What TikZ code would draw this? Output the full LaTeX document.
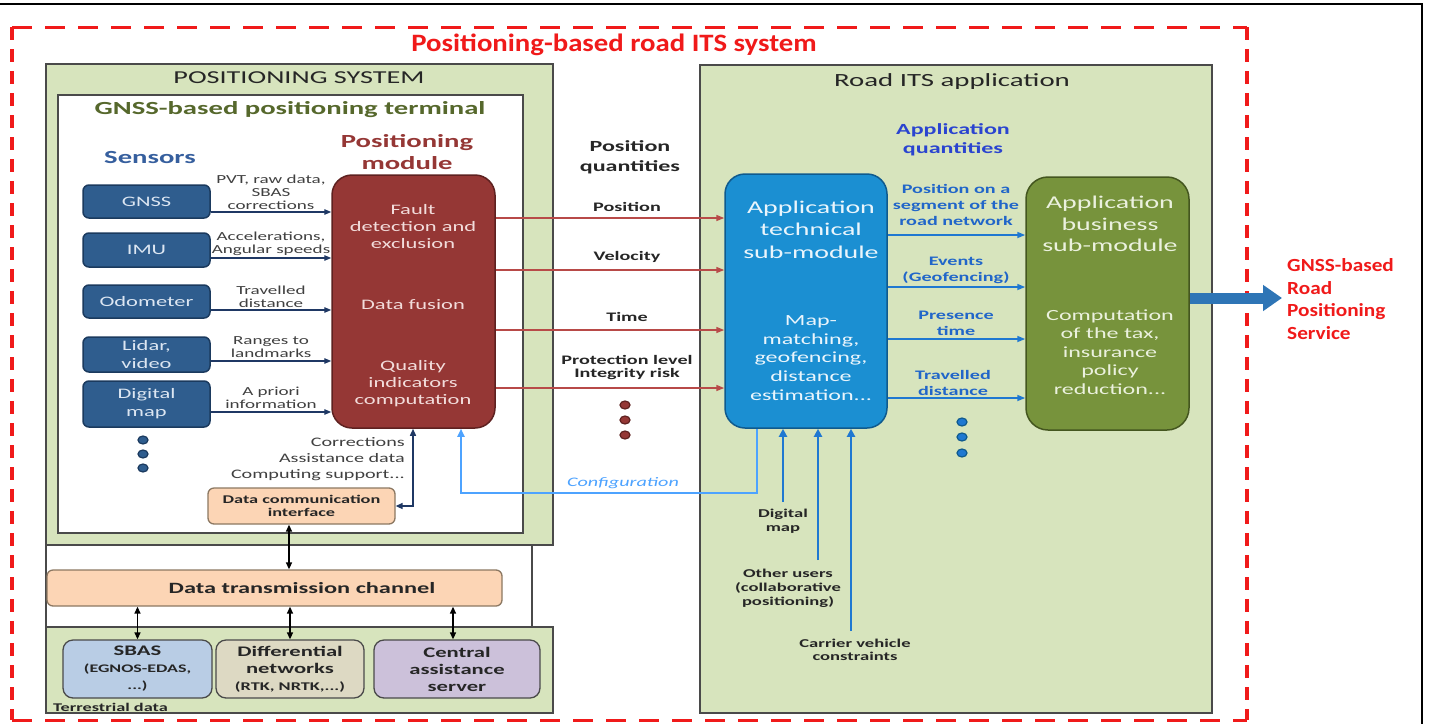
\documentclass[tikz,border=0pt]{standalone}
\usepackage{fontspec}
\setmainfont{Carlito}[FakeStretch=1.55]
\newfontfamily\redfont{Carlito}[FakeStretch=1.15]
\usetikzlibrary{arrows.meta}

\newcommand{\fsz}[2]{\fontsize{#1}{#2}\selectfont}

\definecolor{panelgreen}{HTML}{D7E4BD}
\definecolor{panelline}{HTML}{4A4A4A}
\definecolor{sensorfill}{HTML}{2F5D8E}
\definecolor{sensorline}{HTML}{1B3A5E}
\definecolor{sensortext}{HTML}{DCE6F2}
\definecolor{modfill}{HTML}{953735}
\definecolor{modline}{HTML}{5E2120}
\definecolor{modtext}{HTML}{F2DCDB}
\definecolor{techfill}{HTML}{1B8FD2}
\definecolor{techline}{HTML}{0F5A8E}
\definecolor{techtext}{HTML}{EAF5FC}
\definecolor{busfill}{HTML}{77933C}
\definecolor{busline}{HTML}{44561F}
\definecolor{bustext}{HTML}{EBF1DE}
\definecolor{peach}{HTML}{FCD5B5}
\definecolor{peachline}{HTML}{8C7862}
\definecolor{sbasfill}{HTML}{B9CDE5}
\definecolor{difffill}{HTML}{DDD9C3}
\definecolor{centfill}{HTML}{CCC1DA}
\definecolor{navy}{HTML}{1F3864}
\definecolor{linkred}{HTML}{B84A48}
\definecolor{linkblue}{HTML}{1F78D1}
\definecolor{cfgblue}{HTML}{4DA3FF}
\definecolor{qblue}{HTML}{2A44D0}
\definecolor{lblblue}{HTML}{2166C9}
\definecolor{bigblue}{HTML}{2E75B6}
\definecolor{alertred}{HTML}{F01A1A}
\definecolor{headgreen}{HTML}{56682C}
\definecolor{headblue}{HTML}{365F9E}
\definecolor{headred}{HTML}{953735}
\definecolor{ink}{HTML}{262626}
\definecolor{labelgray}{HTML}{404040}

\tikzset{
  panel/.style={draw=panelline, line width=1.2pt, fill=panelgreen, inner sep=0pt},
  whitepanel/.style={draw=panelline, line width=1.2pt, fill=white, inner sep=0pt},
  sensorbox/.style={draw=sensorline, line width=1.5pt, fill=sensorfill, rounded corners=6pt,
    text=sensortext, font=\fsz{14.5}{18}, align=center, minimum width=127pt, inner sep=0pt},
  modbox/.style={draw=modline, line width=1.5pt, fill=modfill, rounded corners=20pt, inner sep=0pt},
  modtxt/.style={text=modtext, font=\fsz{14.5}{17}, align=center, inner sep=0pt},
  techbox/.style={draw=techline, line width=1.5pt, fill=techfill, rounded corners=20pt, inner sep=0pt},
  techtitle/.style={text=techtext, font=\fsz{18}{22.5}, align=center, inner sep=0pt},
  techbody/.style={text=techtext, font=\fsz{15.5}{18.7}, align=center, inner sep=0pt},
  busbox/.style={draw=busline, line width=1.5pt, fill=busfill, rounded corners=22pt, inner sep=0pt},
  bustitle/.style={text=bustext, font=\fsz{18}{21.5}, align=center, inner sep=0pt},
  busbody/.style={text=bustext, font=\fsz{15.5}{18.5}, align=center, inner sep=0pt},
  peachbox/.style={draw=peachline, line width=1.3pt, fill=peach, rounded corners=6pt, inner sep=0pt,
    text=ink, align=center},
  srcbox/.style={draw=panelline, line width=1.3pt, rounded corners=10pt, inner sep=0pt,
    minimum height=58pt, text=ink, align=center, font=\bfseries\fsz{14.6}{17}},
  heading/.style={inner sep=0pt, align=center, font=\bfseries\fsz{18.5}{22}},
  sensorlbl/.style={inner sep=0pt, align=center, text=labelgray, font=\fsz{12.3}{12.8}},
  qlbl/.style={inner sep=0pt, align=center, text=ink, font=\bfseries\fsz{13}{13}},
  albl/.style={inner sep=0pt, align=center, text=lblblue, font=\bfseries\fsz{13}{16}},
  inlbl/.style={inner sep=0pt, align=center, text=ink, font=\bfseries\fsz{12}{14}},
  redtxt/.style={inner sep=0pt, text=alertred, font=\redfont\bfseries},
  sensorlink/.style={draw=navy, line width=1.3pt, -{Triangle[length=7pt,width=5.5pt]}},
  qlink/.style={draw=linkred, line width=1.5pt, -{Triangle[length=8pt,width=6pt]}},
  alink/.style={draw=linkblue, line width=1.6pt, -{Triangle[length=8pt,width=6pt]}},
  inlink/.style={draw=linkblue, line width=2.4pt, -{Triangle[length=8pt,width=8pt]}},
  cfglink/.style={draw=cfgblue, line width=1.8pt, -{Triangle[length=8pt,width=7pt]}},
  dbllink/.style={draw=black, line width=1.4pt,
    {Triangle[length=7pt,width=6pt]}-{Triangle[length=7pt,width=6pt]}},
  dclink/.style={draw=navy, line width=1.4pt,
    {Triangle[length=7pt,width=6pt]}-{Triangle[length=7pt,width=6pt]}},
  bigarrow/.style={draw=bigblue, line width=11pt, -{Triangle[length=19pt,width=25pt]}},
  dashH/.style={draw=alertred, line width=3pt, dash pattern=on 20pt off 13pt},
  dashV/.style={draw=alertred, line width=3.5pt, dash pattern=on 13pt off 9pt},
}

\begin{document}
\begin{tikzpicture}[x=1pt,y=-1pt]
\useasboundingbox (0,0) rectangle (1432,724);
\fill[white] (0,0) rectangle (1432,724);

% page frame
\draw[line width=2.5pt, black] (0,4) -- (1422,4) -- (1422,724);

% system boundary
\draw[dashH] (12,27) -- (1247,27);
\draw[dashH] (12,720) -- (1247,720);
\draw[dashV] (12,27) -- (12,720);
\draw[dashV] (1247,27) -- (1247,720);
\node[redtxt, font=\redfont\bfseries\fsz{25}{28}] (systitle) at (614,45) {Positioning-based road ITS system};

% ---------------- positioning system ----------------
\node[panel, minimum width=507pt, minimum height=481pt] (possys) at (299.5,304.5) {};
\node[whitepanel, minimum width=465pt, minimum height=438pt] (terminal) at (290.5,314) {};
\node[whitepanel, minimum width=486pt, minimum height=82pt] (chanbox) at (289,586) {};
\node[panel, minimum width=507pt, minimum height=86pt] (terr) at (299.5,670) {};

\node[heading, font=\fsz{18.2}{22}, text=ink] (possystitle) at (299,78) {POSITIONING SYSTEM};
\node[heading, text=headgreen] (termtitle) at (290,110) {GNSS-based positioning terminal};
\node[heading, text=headblue] (senstitle) at (150,157) {Sensors};
\node[heading, text=headred] (pmtitle) at (407,152) {Positioning\\module};

% sensors
\node[sensorbox, minimum height=33pt] (gnss) at (146.5,201.5) {GNSS};
\node[sensorbox, minimum height=34pt] (imu) at (146.5,250) {IMU};
\node[sensorbox, minimum height=33pt] (odo) at (146.5,301.5) {Odometer};
\node[sensorbox, minimum height=35pt] (lidar) at (146.5,354.5) {Lidar,\\video};
\node[sensorbox, minimum height=46pt] (dmap) at (146.5,404) {Digital\\map};

\draw[fill=sensorfill, draw=sensorline, line width=1.2pt] (143,440) ellipse (5pt and 4pt);
\draw[fill=sensorfill, draw=sensorline, line width=1.2pt] (143,454) ellipse (5pt and 4pt);
\draw[fill=sensorfill, draw=sensorline, line width=1.2pt] (143,468) ellipse (5pt and 4pt);

% positioning module
\node[modbox, minimum width=163pt, minimum height=253pt] (pm) at (413.5,301.5) {};
\node[modtxt] (fde) at (413,227) {Fault\\detection and\\exclusion};
\node[modtxt] (fusion) at (413,305) {Data fusion};
\node[modtxt] (qic) at (413,384) {Quality\\indicators\\computation};

% sensor outputs
\coordinate (ygnss) at (0,212);
\coordinate (yimu) at (0,258);
\coordinate (yodo) at (0,310);
\coordinate (ylidar) at (0,361);
\coordinate (ydmap) at (0,412);
\draw[sensorlink] (gnss.east |- ygnss) -- (pm.west |- ygnss);
\draw[sensorlink] (imu.east |- yimu) -- (pm.west |- yimu);
\draw[sensorlink] (odo.east |- yodo) -- (pm.west |- yodo);
\draw[sensorlink] (lidar.east |- ylidar) -- (pm.west |- ylidar);
\draw[sensorlink] (dmap.east |- ydmap) -- (pm.west |- ydmap);
\node[sensorlbl] (gnsslbl) at (271,192) {PVT, raw data,\\SBAS\\corrections};
\node[sensorlbl] (imulbl) at (271,243.5) {Accelerations,\\Angular speeds};
\node[sensorlbl] (odolbl) at (271,296.5) {Travelled\\distance};
\node[sensorlbl] (lidarlbl) at (271,347) {Ranges to\\landmarks};
\node[sensorlbl] (dmaplbl) at (271,398) {A priori\\information};

% assistance path
\node[inner sep=0pt, anchor=east, align=right, text=labelgray, font=\fsz{13}{16}] (assist) at (405,459)
  {Corrections\\Assistance data\\Computing support...};
\node[peachbox, minimum width=187pt, minimum height=36pt, font=\bfseries\fsz{11.8}{13}] (dci) at (301.5,506)
  {Data communication\\interface};
\coordinate (dccorner) at (413,506);
\draw[dclink] (pm.south -| dccorner) -- (dccorner) -- (dci.east |- dccorner);

% transmission channel
\node[peachbox, minimum width=455pt, minimum height=36pt] (chan) at (274.5,588) {};
\node[inner sep=0pt, text=ink, font=\bfseries\fsz{15.7}{18}] (chantxt) at (302,588) {Data transmission channel};
\coordinate (dcx) at (289,0);
\draw[dbllink] (dci.south -| dcx) -- (chan.north -| dcx);

% terrestrial data sources
\node[srcbox, fill=sbasfill, minimum width=149pt] (sbas) at (137.5,669)
  {SBAS\\{\fsz{11.6}{16}(EGNOS-EDAS,}\\{\fsz{11.6}{14}...)}};
\node[srcbox, fill=difffill, minimum width=148pt] (diff) at (290,669)
  {Differential\\networks\\{\fsz{11.8}{15}(RTK, NRTK,...)}};
\node[srcbox, fill=centfill, minimum width=166pt] (cent) at (457,669)
  {Central\\assistance\\server};
\coordinate (centx) at (453,0);
\draw[dbllink] (chan.south -| sbas.north) -- (sbas.north);
\draw[dbllink] (chan.south -| diff.north) -- (diff.north);
\draw[dbllink] (chan.south -| centx) -- (cent.north -| centx);
\node[inner sep=0pt, anchor=west, text=ink, font=\bfseries\fsz{11.8}{13}] (terrlbl) at (53,707) {Terrestrial data};

% ---------------- position quantities ----------------
\node[heading, font=\bfseries\fsz{15.5}{20}, text=ink] (pqtitle) at (630,157) {Position\\quantities};
\node[qlbl] (qpos) at (627,207) {Position};
\node[qlbl] (qvel) at (627,257) {Velocity};
\node[qlbl] (qtime) at (627,317) {Time};
\node[qlbl] (qprot) at (627,367.5) {Protection level\\Integrity risk};
\draw[fill=modfill, draw=modline, line width=1.2pt] (625,405) ellipse (5pt and 4pt);
\draw[fill=modfill, draw=modline, line width=1.2pt] (625,420) ellipse (5pt and 4pt);
\draw[fill=modfill, draw=modline, line width=1.2pt] (625,435) ellipse (5pt and 4pt);

% ---------------- road ITS application ----------------
\node[panel, minimum width=512pt, minimum height=648pt] (roadits) at (956,389) {};
\node[heading, font=\fsz{18.6}{22}, text=ink] (roadtitle) at (952,82) {Road ITS application};
\node[heading, font=\bfseries\fsz{15.5}{19}, text=qblue] (aqtitle) at (953,139.5) {Application\\quantities};

\node[techbox, minimum width=162pt, minimum height=254pt] (tech) at (806,301) {};
\node[techtitle] (techhead) at (811,229.7) {Application\\technical\\sub-module};
\node[techbody] (techtext) at (811,357.8) {Map-\\matching,\\geofencing,\\distance\\estimation...};

\node[busbox, minimum width=163pt, minimum height=253pt] (bus) at (1107.5,303.5) {};
\node[bustitle] (bushead) at (1110,224.3) {Application\\business\\sub-module};
\node[busbody] (bustext) at (1110,352) {Computation\\of the tax,\\insurance\\policy\\reduction...};

% position quantities into the technical sub-module
\coordinate (ypos) at (0,218);
\coordinate (yvel) at (0,270);
\coordinate (ytime) at (0,330);
\coordinate (yprot) at (0,388);
\draw[qlink] (pm.east |- ypos) -- (tech.west |- ypos);
\draw[qlink] (pm.east |- yvel) -- (tech.west |- yvel);
\draw[qlink] (pm.east |- ytime) -- (tech.west |- ytime);
\draw[qlink] (pm.east |- yprot) -- (tech.west |- yprot);

% application quantities
\coordinate (yseg) at (0,235);
\coordinate (yevt) at (0,287);
\coordinate (ypres) at (0,339);
\coordinate (ytrav) at (0,398);
\draw[alink] (tech.east |- yseg) -- (bus.west |- yseg);
\draw[alink] (tech.east |- yevt) -- (bus.west |- yevt);
\draw[alink] (tech.east |- ypres) -- (bus.west |- ypres);
\draw[alink] (tech.east |- ytrav) -- (bus.west |- ytrav);
\node[albl] (lseg) at (956,205) {Position on a\\segment of the\\road network};
\node[albl] (levt) at (956,270) {Events\\(Geofencing)};
\node[albl] (lpres) at (956,323.5) {Presence\\time};
\node[albl] (ltrav) at (953,383) {Travelled\\distance};
\draw[fill=linkblue, draw=techline, line width=1.2pt] (962,422) ellipse (5pt and 4pt);
\draw[fill=linkblue, draw=techline, line width=1.2pt] (962,437) ellipse (5pt and 4pt);
\draw[fill=linkblue, draw=techline, line width=1.2pt] (962,453) ellipse (5pt and 4pt);

% configuration feedback
\coordinate (cfgR) at (757,493);
\coordinate (cfgL) at (461,493);
\draw[cfglink] (tech.south -| cfgR) -- (cfgR) -- (cfgL) -- (pm.south -| cfgL);
\node[inner sep=0pt, text=cfgblue, font=\itshape\fsz{13}{15}] (cfglbl) at (623,483) {Configuration};

% external inputs of the technical sub-module
\coordinate (indm) at (783,502);
\coordinate (inou) at (818,560);
\coordinate (incv) at (851,631);
\draw[inlink] (indm) -- (tech.south -| indm);
\draw[inlink] (inou) -- (tech.south -| inou);
\draw[inlink] (incv) -- (tech.south -| incv);
\node[inlbl] (ldm) at (783,521) {Digital\\map};
\node[inlbl] (lou) at (788,588) {Other users\\(collaborative\\positioning)};
\node[inlbl, font=\bfseries\fsz{12}{13}] (lcv) at (855,649.5) {Carrier vehicle\\constraints};

% delivered service
\coordinate (svc) at (1282,298);
\draw[bigarrow] (bus.east |- svc) -- (svc);
\node[redtxt, anchor=west, align=left, font=\redfont\bfseries\fsz{18.5}{22.7}] (service) at (1287,299)
  {GNSS-based\\Road\\Positioning\\Service};

\end{tikzpicture}
\end{document}
